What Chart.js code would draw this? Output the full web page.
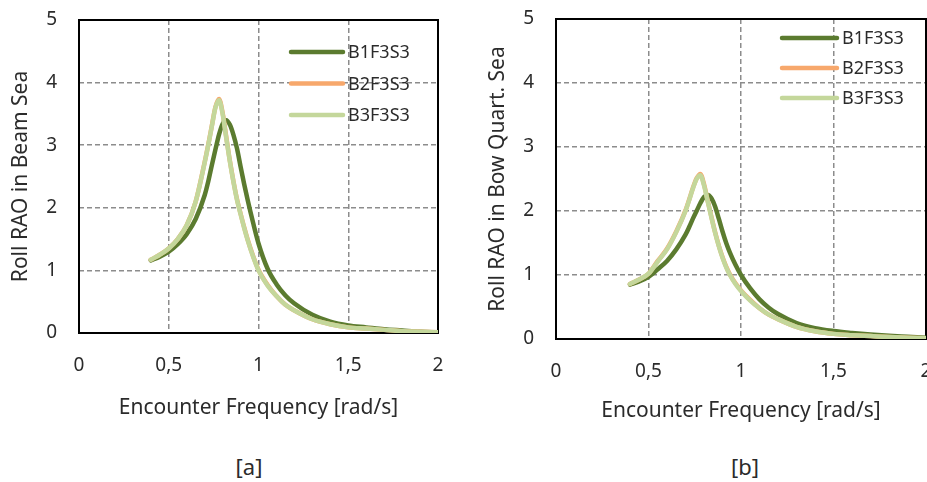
<!DOCTYPE html>
<html>
<head>
<meta charset="utf-8">
<title>Roll RAO</title>
<script src="https://cdn.jsdelivr.net/npm/chart.js@4/dist/chart.umd.min.js"></script>
<style>
    html, body {
        margin: 0;
        padding: 0;
        width: 927px;
        height: 482px;
        overflow: hidden;
        background: #ffffff;
    }

    .panel {
        position: absolute;
        top: 0;
        width: 470px;
        height: 440px;
    }

    #panelA { left: 0; }
    #panelB { left: 470px; }

    .caption {
        position: absolute;
        top: 451px;
        line-height: 30px;
        font-family: "Noto Sans", sans-serif;
        font-size: 22px;
        color: #2b2b2b;
        transform: translateX(-50%);
    }
</style>
</head>
<body>

<div class="panel" id="panelA"><canvas id="beamChart"></canvas></div>
<div class="panel" id="panelB"><canvas id="bowChart"></canvas></div>

<div class="caption" style="left:249px">[a]</div>
<div class="caption" style="left:745px">[b]</div>

<script>
/* ===============================
   DATA
=============================== */

// encounter frequency [rad/s], shared by every series
const freq = [
    0.40, 0.45, 0.50, 0.55, 0.60, 0.65, 0.70, 0.72, 0.74, 0.76, 0.78,
    0.80, 0.82, 0.84, 0.86, 0.88, 0.90, 0.92, 0.94, 0.97, 1.00, 1.05,
    1.10, 1.15, 1.20, 1.30, 1.40, 1.50, 1.60, 1.70, 1.80, 1.90, 2.00
];

// roll RAO in beam sea
const beamB1 = [
    1.16, 1.22, 1.30, 1.42, 1.58, 1.82, 2.20, 2.42, 2.68, 2.93, 3.17,
    3.34, 3.40, 3.33, 3.17, 2.95, 2.66, 2.38, 2.12, 1.76, 1.43, 1.03,
    0.78, 0.60, 0.47, 0.29, 0.18, 0.12, 0.09, 0.06, 0.04, 0.02, 0.01
];

const beamB2 = [
    1.17, 1.25, 1.35, 1.50, 1.72, 2.10, 2.73, 3.01, 3.31, 3.61, 3.74,
    3.52, 3.14, 2.76, 2.43, 2.14, 1.91, 1.69, 1.49, 1.23, 1.01, 0.77,
    0.59, 0.45, 0.36, 0.22, 0.14, 0.09, 0.07, 0.05, 0.03, 0.02, 0.01
];

const beamB3 = [
    1.17, 1.25, 1.35, 1.50, 1.72, 2.10, 2.72, 3.00, 3.30, 3.60, 3.72,
    3.50, 3.12, 2.75, 2.42, 2.13, 1.90, 1.68, 1.48, 1.22, 1.00, 0.76,
    0.59, 0.45, 0.36, 0.22, 0.14, 0.09, 0.07, 0.05, 0.03, 0.02, 0.01
];

// roll RAO in bow quartering sea
const bowB1 = [
    0.85, 0.90, 0.97, 1.09, 1.22, 1.40, 1.63, 1.75, 1.88, 2.00, 2.12,
    2.22, 2.25, 2.20, 2.07, 1.88, 1.68, 1.50, 1.35, 1.16, 1.00, 0.79,
    0.62, 0.49, 0.39, 0.25, 0.17, 0.125, 0.095, 0.07, 0.05, 0.035, 0.02
];

const bowB2 = [
    0.86, 0.93, 1.02, 1.22, 1.41, 1.68, 2.01, 2.18, 2.36, 2.51, 2.58,
    2.42, 2.16, 1.91, 1.67, 1.46, 1.28, 1.13, 1.01, 0.87, 0.76, 0.61,
    0.48, 0.38, 0.31, 0.19, 0.12, 0.08, 0.06, 0.045, 0.03, 0.02, 0.01
];

const bowB3 = [
    0.86, 0.93, 1.02, 1.21, 1.40, 1.67, 2.00, 2.17, 2.35, 2.50, 2.56,
    2.40, 2.15, 1.90, 1.66, 1.45, 1.27, 1.12, 1.00, 0.86, 0.75, 0.60,
    0.48, 0.38, 0.31, 0.19, 0.12, 0.08, 0.06, 0.045, 0.03, 0.02, 0.01
];

const seriesNames = ["B1F3S3", "B2F3S3", "B3F3S3"];

const xTicks = [0, 0.5, 1, 1.5, 2];
const xTickLabels = ["0", "0,5", "1", "1,5", "2"];

/* ===============================
   STYLE
=============================== */

const FONT = "'Noto Sans', sans-serif";
const TEXT = "#2b2b2b";
const GRID = "#8c8c8c";
const COLORS = ["#5b7b2f", "#f7a86c", "#c4d79b"];

/* ===============================
   PLUGINS
=============================== */

// solid black box round the plot area, under the curves
const plotFrame = {
    id: "plotFrame",
    beforeDatasetsDraw(chart) {
        const a = chart.chartArea;
        const ctx = chart.ctx;
        ctx.save();
        ctx.strokeStyle = "#000000";
        ctx.lineWidth = 2;
        ctx.strokeRect(a.left, a.top, a.right - a.left, a.bottom - a.top);
        ctx.restore();
    }
};

// vertical legend drawn inside the plot area
const insideLegend = {
    id: "insideLegend",
    afterDatasetsDraw(chart, args, opts) {
        const a = chart.chartArea;
        const ctx = chart.ctx;
        ctx.save();
        chart.data.datasets.forEach((ds, i) => {
            const y = a.top + opts.top + i * opts.rowGap;
            const x0 = a.left + opts.left;
            ctx.strokeStyle = ds.borderColor;
            ctx.lineWidth = 4.5;
            ctx.lineCap = "round";
            ctx.beginPath();
            ctx.moveTo(x0, y);
            ctx.lineTo(x0 + opts.lineLength, y);
            ctx.stroke();
            ctx.fillStyle = TEXT;
            ctx.font = "18px " + FONT;
            ctx.textAlign = "left";
            ctx.textBaseline = "middle";
            ctx.fillText(ds.label, x0 + opts.lineLength + 5, y + 1);
        });
        ctx.restore();
    }
};

/* ===============================
   CHART BUILDER
=============================== */

function buildDatasets(series) {
    return series.map((values, i) => ({
        label: seriesNames[i],
        data: freq.map((f, k) => ({ x: f, y: values[k] })),
        borderColor: COLORS[i],
        backgroundColor: COLORS[i],
        borderWidth: 4.5,
        borderCapStyle: "round",
        pointRadius: 0,
        cubicInterpolationMode: "monotone",
        // last series is painted on top
        order: series.length - i
    }));
}

function makeChart(canvasId, series, cfg) {
    const canvas = document.getElementById(canvasId);

    return new Chart(canvas, {
        type: "line",
        data: { datasets: buildDatasets(series) },
        options: {
            responsive: true,
            maintainAspectRatio: false,
            animation: false,
            events: [],
            layout: { padding: cfg.padding },
            plugins: {
                legend: { display: false },
                tooltip: { enabled: false },
                insideLegend: cfg.legend
            },
            scales: {
                x: {
                    type: "linear",
                    min: 0,
                    max: 2,
                    afterBuildTicks: axis => {
                        axis.ticks = xTicks.map(v => ({ value: v }));
                    },
                    ticks: {
                        autoSkip: false,
                        maxRotation: 0,
                        padding: 21,
                        color: TEXT,
                        font: { family: FONT, size: 19 },
                        callback: v => xTickLabels[xTicks.indexOf(v)]
                    },
                    grid: { color: GRID, lineWidth: 1.5, drawTicks: false },
                    border: { display: false, dash: [5, 3] },
                    title: {
                        display: true,
                        text: "Encounter Frequency [rad/s]",
                        color: TEXT,
                        font: { family: FONT, size: 21 },
                        padding: { top: 0, bottom: cfg.xTitlePad }
                    },
                    // fixed box, no extra room for label overflow
                    afterFit: axis => {
                        axis.height = cfg.xHeight;
                        axis.paddingLeft = 0;
                        axis.paddingRight = 0;
                    }
                },
                y: {
                    min: 0,
                    max: 5,
                    ticks: {
                        stepSize: 1,
                        padding: 22,
                        color: TEXT,
                        font: { family: FONT, size: 19 }
                    },
                    grid: { color: GRID, lineWidth: 1.5, drawTicks: false },
                    border: { display: false, dash: [5, 3] },
                    title: {
                        display: true,
                        text: cfg.yTitle,
                        color: TEXT,
                        font: { family: FONT, size: 21 },
                        padding: { top: cfg.yTitlePad, bottom: 0 }
                    },
                    afterFit: axis => {
                        axis.width = cfg.yWidth;
                        axis.paddingTop = 0;
                        axis.paddingBottom = 0;
                    }
                }
            }
        },
        plugins: [plotFrame, insideLegend]
    });
}

/* ===============================
   DRAW
=============================== */

makeChart("beamChart", [beamB1, beamB2, beamB3], {
    yTitle: "Roll RAO in Beam Sea",
    padding: { top: 20, right: 32, bottom: 0, left: 0 },
    yWidth: 79,
    xHeight: 107,
    yTitlePad: 8,
    xTitlePad: 19,
    legend: { left: 212, top: 32, rowGap: 31.5, lineLength: 52 }
});

makeChart("bowChart", [bowB1, bowB2, bowB3], {
    yTitle: "Roll RAO in Bow Quart. Sea",
    padding: { top: 19, right: 14, bottom: 0, left: 0 },
    yWidth: 86,
    xHeight: 101,
    yTitlePad: 15,
    xTitlePad: 16,
    legend: { left: 226, top: 19, rowGap: 30, lineLength: 55 }
});
</script>
</body>
</html>
